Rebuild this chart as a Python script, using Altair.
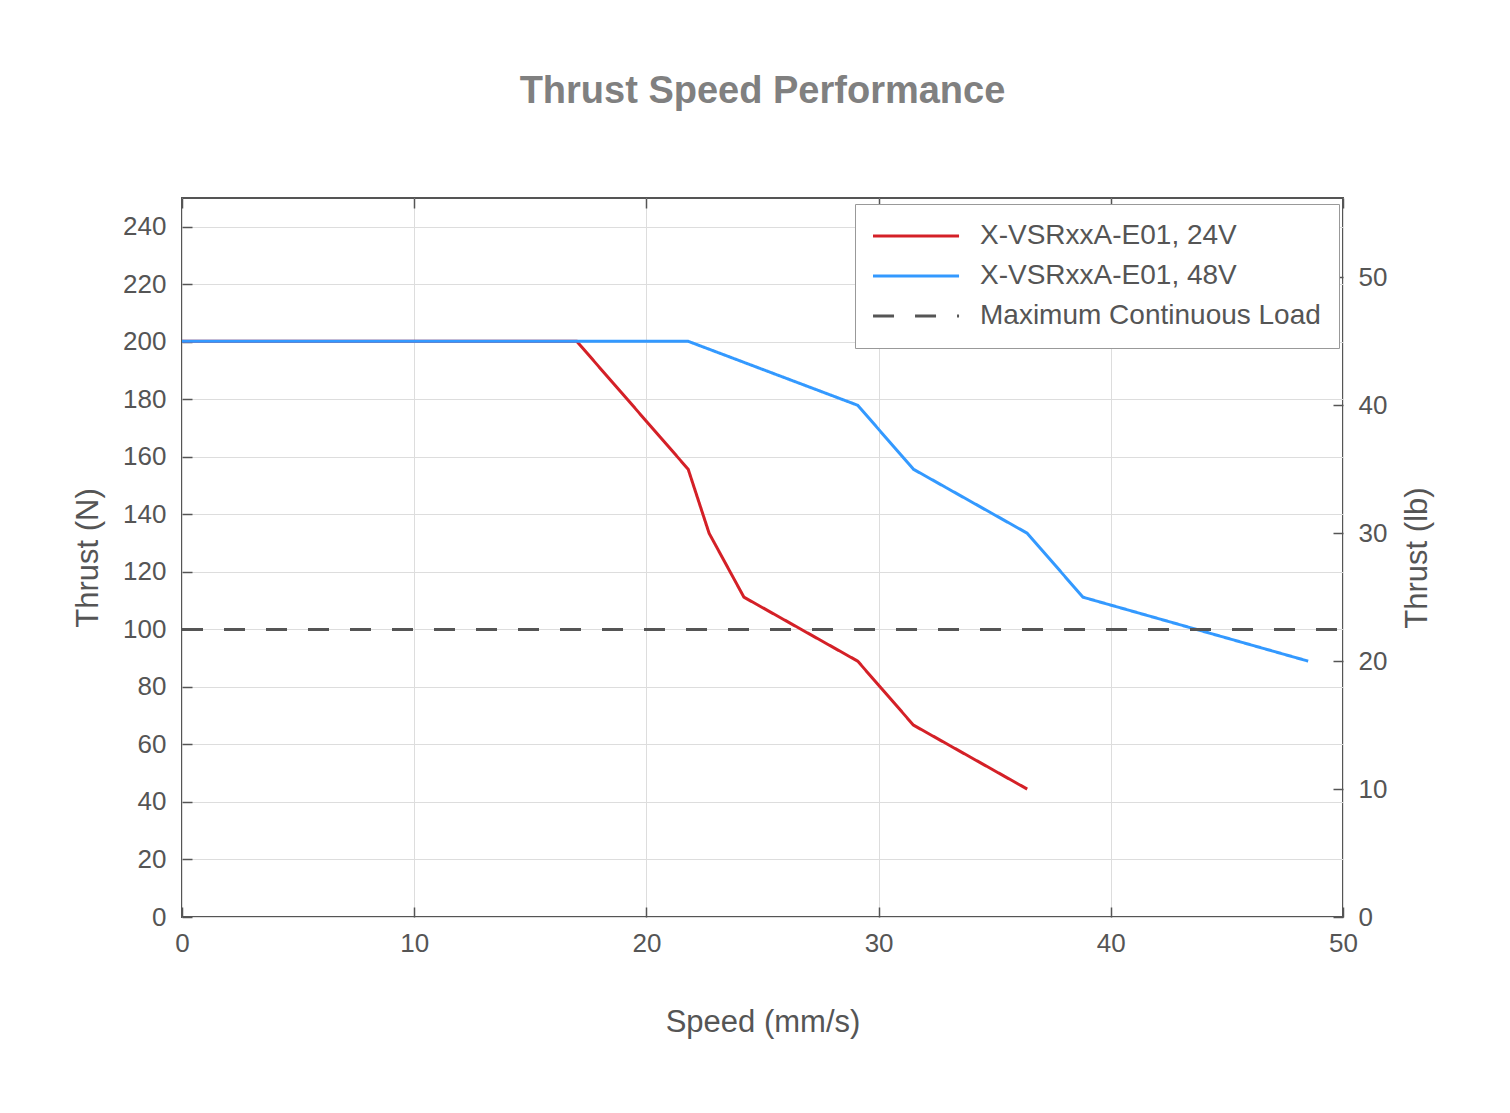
import altair as alt
import pandas as pd

N_PER_LB = 4.44822

series_names = ["X-VSRxxA-E01, 24V", "X-VSRxxA-E01, 48V", "Maximum Continuous Load"]

speed_24 = [0.0, 17.0, 21.8, 22.7, 24.2, 29.1, 31.5, 36.4]
thrust_24_lb = [45, 45, 35, 30, 25, 20, 15, 10]

speed_48 = [0.0, 21.8, 29.1, 31.5, 36.4, 38.8, 48.5]
thrust_48_lb = [45, 45, 40, 35, 30, 25, 20]

speed_max = [0.0, 50.0]
thrust_max_n = [100, 100]

x_ticks = [0, 10, 20, 30, 40, 50]
y_ticks_n = [0, 20, 40, 60, 80, 100, 120, 140, 160, 180, 200, 220, 240]
y_ticks_lb = [0, 10, 20, 30, 40, 50]

rows = []
for i, (s, t) in enumerate(zip(speed_24, thrust_24_lb)):
    rows.append({"series": series_names[0], "speed": s, "thrust": t * N_PER_LB, "order": i})
for i, (s, t) in enumerate(zip(speed_48, thrust_48_lb)):
    rows.append({"series": series_names[1], "speed": s, "thrust": t * N_PER_LB, "order": i})
for i, (s, t) in enumerate(zip(speed_max, thrust_max_n)):
    rows.append({"series": series_names[2], "speed": s, "thrust": t, "order": i})
df = pd.DataFrame(rows)
df["thrust_lb"] = df["thrust"] / N_PER_LB

X_DOM = [0, 50]
Y_DOM = [0, 250]
YLB_DOM = [0, 250 / N_PER_LB]
AX = "#555555"
FONT = "Liberation Sans"
LBL = 26
TTL = 31

W, H = 1161, 719

def xs(axis):
    return alt.X("speed:Q", scale=alt.Scale(domain=X_DOM, nice=False, zero=False), axis=axis)

def ys(axis):
    return alt.Y("thrust:Q", scale=alt.Scale(domain=Y_DOM, nice=False), axis=axis)

def ylb(axis):
    return alt.Y("thrust_lb:Q", scale=alt.Scale(domain=YLB_DOM, nice=False), axis=axis)

tick_axis = dict(labels=False, domain=False, grid=False, ticks=True, tickSize=10,
                 tickColor=AX, tickWidth=1.5, offset=-10, title=None)

base = alt.Chart(df)

lines = base.mark_line(strokeWidth=3).encode(
    x=xs(alt.Axis(values=x_ticks, title="Speed (mm/s)", ticks=False, domain=False,
                  grid=True, gridColor="#dddddd", labelPadding=13, titlePadding=51,
                  labelFlush=False, labelFontSize=LBL, titleFontSize=TTL, labelColor=AX,
                  titleColor=AX, titleFontWeight="normal", labelFont=FONT, titleFont=FONT)),
    y=ys(alt.Axis(values=y_ticks_n, title="Thrust (N)", ticks=False, domain=False,
                  grid=True, gridColor="#dddddd", labelPadding=16, titlePadding=18,
                  labelFlush=False, labelFontSize=LBL, titleFontSize=TTL, labelColor=AX,
                  titleColor=AX, titleFontWeight="normal", labelFont=FONT, titleFont=FONT)),
    color=alt.Color("series:N", sort=series_names,
                    scale=alt.Scale(domain=series_names, range=["#d42027", "#3399ff", "#555555"]),
                    legend=alt.Legend(title=None, orient="none", legendX=673, legendY=6,
                                      fillColor="white", strokeColor="#999999", padding=18,
                                      labelFontSize=28, labelFont=FONT, labelColor=AX,
                                      symbolType="M-1.27,0L6.55,0", symbolSize=484,
                                      symbolStrokeWidth=3, labelOffset=79, rowPadding=12,
                                      labelLimit=600)),
    strokeDash=alt.StrokeDash("series:N", sort=series_names,
                              scale=alt.Scale(domain=series_names, range=[[1, 0], [1, 0], [21, 21]]),
                              legend=None),
    order="order:Q",
)

ticks_bl = base.mark_point(opacity=0).encode(
    x=xs(alt.Axis(values=x_ticks, orient="bottom", **tick_axis)),
    y=ys(alt.Axis(values=y_ticks_n, orient="left", **tick_axis)),
)

right_axis = base.mark_point(opacity=0).encode(
    x=xs(alt.Axis(values=x_ticks, orient="top", **tick_axis)),
    y=ylb(alt.Axis(values=y_ticks_lb, orient="right", title="Thrust (lb)", ticks=False,
                   domain=False, grid=False, labelPadding=15, titlePadding=16,
                   labelFlush=False, titleAngle=270, titleBaseline="top",
                   labelFontSize=LBL, titleFontSize=TTL, labelColor=AX, titleColor=AX,
                   titleFontWeight="normal", labelFont=FONT, titleFont=FONT)),
)

right_ticks = base.mark_point(opacity=0).encode(
    x=xs(None),
    y=ylb(alt.Axis(values=y_ticks_lb, orient="right", **tick_axis)),
)

chart = alt.layer(lines, ticks_bl, right_axis, right_ticks).resolve_scale(
    x="independent", y="independent"
).properties(
    width=W, height=H,
    title=alt.Title("Thrust Speed Performance", fontSize=38, fontWeight="bold",
                    color="#808080", font=FONT, offset=86, anchor="middle"),
    padding={"left": 64, "top": 65, "right": 20, "bottom": 20},
).configure_view(stroke=AX, strokeWidth=2)

chart.save("out.html", embed_options={"renderer": "svg", "actions": False})
